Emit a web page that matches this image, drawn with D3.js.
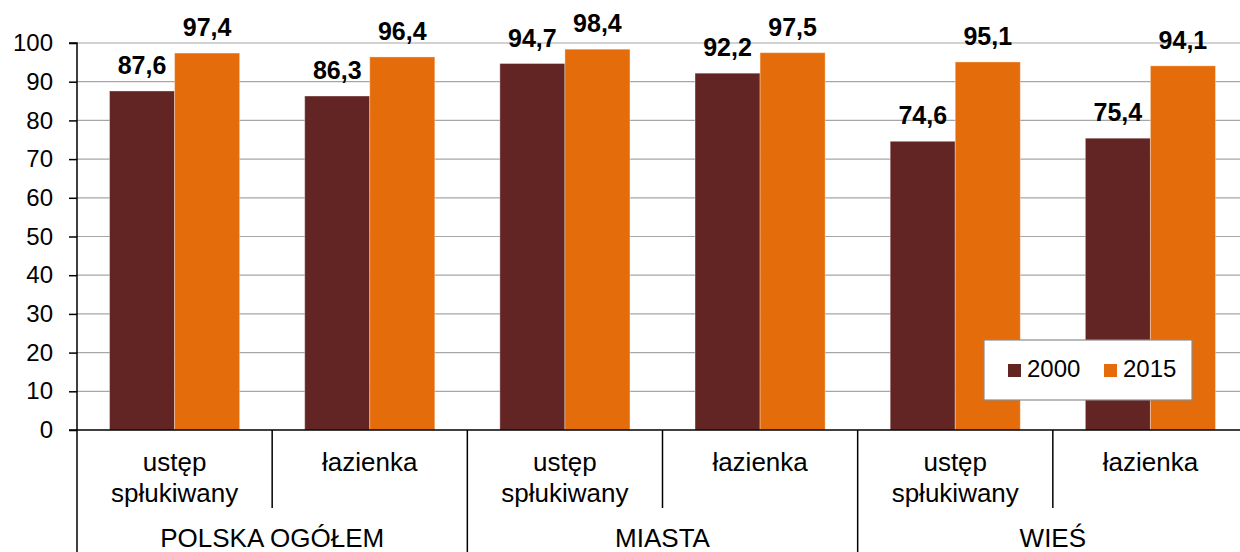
<!DOCTYPE html>
<html><head><meta charset="utf-8">
<script src="https://cdn.jsdelivr.net/npm/d3@7"></script>
<style>body{margin:0;background:#fff}svg{display:block;font-family:"Liberation Sans",Arial,sans-serif}</style>
</head><body><svg id="c" width="1240" height="552"></svg>
<script>
const groups = ["POLSKA OGÓŁEM", "MIASTA", "WIEŚ"];
const subcats = [["ustęp", "spłukiwany"], ["łazienka"]];
const series = ["2000", "2015"];
const values2000 = [87.6, 86.3, 94.7, 92.2, 74.6, 75.4];
const values2015 = [97.4, 96.4, 98.4, 97.5, 95.1, 94.1];
const yTicks = [0, 10, 20, 30, 40, 50, 60, 70, 80, 90, 100];
const colors = ["#632523", "#E46C0A"];

const svg = d3.select("#c");
const pL = 77, pR = 1248, pT = 43, pB = 430;
const cats = d3.range(6);
const x = d3.scaleBand().domain(cats).range([pL, pR]).paddingInner(0).paddingOuter(0);
const xs = d3.scaleBand().domain(series).range([0, x.bandwidth()]).paddingInner(0).paddingOuter(0.5);
const y = d3.scaleLinear().domain([0, 100]).range([pB, pT]);
const fmt = v => d3.format(".1f")(v).replace(".", ",");

// gridlines
svg.append("g").selectAll("line").data(yTicks.filter(t => t > 0)).join("line")
  .attr("x1", pL).attr("x2", 1240).attr("y1", d => y(d)).attr("y2", d => y(d))
  .attr("stroke", "#a6a6a6").attr("stroke-width", 1.2);

// bars
const data = cats.map(i => [values2000[i], values2015[i]]);
const g = svg.append("g").selectAll("g").data(data).join("g").attr("transform", (d, i) => `translate(${x(i)},0)`);
g.selectAll("rect").data(d => d.map((v, j) => ({v, j}))).join("rect")
  .attr("x", d => xs(series[d.j])).attr("width", xs.bandwidth())
  .attr("y", d => y(d.v)).attr("height", d => y(0) - y(d.v))
  .attr("fill", d => colors[d.j])
  .attr("stroke", "rgba(255,255,255,0.35)").attr("stroke-width", 1);
g.selectAll("text").data(d => d.map((v, j) => ({v, j}))).join("text")
  .attr("x", d => xs(series[d.j]) + xs.bandwidth() / 2).attr("y", d => y(d.v) - 17)
  .attr("text-anchor", "middle").attr("font-weight", "bold").attr("font-size", 25).attr("fill", "#000")
  .text(d => fmt(d.v));

// y axis
const yAxis = d3.axisLeft(y).tickValues(yTicks).tickSize(8).tickPadding(16);
const ya = svg.append("g").attr("transform", `translate(${pL},0)`).call(yAxis);
ya.select(".domain").attr("stroke", "#000").attr("stroke-width", 1.5).attr("d", `M-8,${pT}H0V${pB}`);
ya.selectAll(".tick line").attr("stroke", "#000").attr("stroke-width", 1.5);
ya.selectAll(".tick text").attr("font-size", 24).attr("fill", "#000").attr("font-family", "Liberation Sans, Arial, sans-serif");

// x axis line
svg.append("line").attr("x1", pL - 8).attr("x2", 1240).attr("y1", pB).attr("y2", pB).attr("stroke", "#000").attr("stroke-width", 1.5);
// separators
const seps = d3.range(0, 7).map(i => i === 6 ? pR : x(i));
svg.append("g").selectAll("line").data(seps).join("line")
  .attr("x1", d => d).attr("x2", d => d).attr("y1", pB)
  .attr("y2", (d, i) => i % 2 === 0 ? 552 : 508)
  .attr("stroke", "#000").attr("stroke-width", 1.5);

// subcategory labels
const sub = svg.append("g").selectAll("text").data(cats).join("text")
  .attr("text-anchor", "middle").attr("font-size", 26).attr("fill", "#000");
sub.each(function(i) {
  const lines = subcats[i % 2];
  d3.select(this).selectAll("tspan").data(lines).join("tspan")
    .attr("x", x(i) + x.bandwidth() / 2).attr("y", (d, k) => 471 + k * 31).text(d => d);
});
// group labels
svg.append("g").selectAll("text").data(groups).join("text")
  .attr("x", (d, i) => x(i * 2) + x.bandwidth()).attr("y", 547)
  .attr("text-anchor", "middle").attr("font-size", 26).attr("fill", "#000").text(d => d);

// legend
const lg = svg.append("g").attr("transform", "translate(984,340)");
lg.append("rect").attr("width", 208).attr("height", 60).attr("fill", "#fff").attr("stroke", "#8c8c8c").attr("stroke-width", 1.2);
series.forEach((s, i) => {
  lg.append("rect").attr("x", 24 + i * 96).attr("y", 24).attr("width", 13).attr("height", 13).attr("fill", colors[i]);
  lg.append("text").attr("x", 43 + i * 96).attr("y", 37).attr("font-size", 24).attr("fill", "#000").text(s);
});
</script></body></html>
